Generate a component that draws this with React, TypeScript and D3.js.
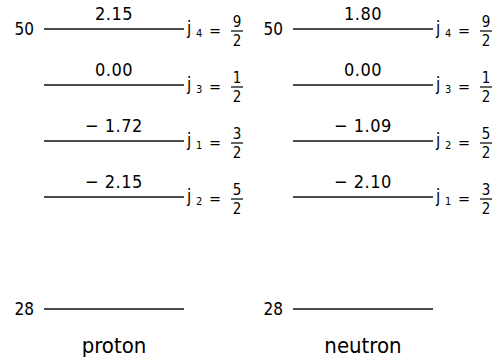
import * as d3 from 'd3';
import { useEffect, useRef } from 'react';

const width = 499;
const height = 362;

const panels = ['proton', 'neutron'];
const shellLabels = ['50', '28'];
const protonEnergies = [2.15, 0.0, -1.72, -2.15];
const protonOrbits = ['4', '3', '1', '2'];
const protonSpinNum = ['9', '1', '3', '5'];
const neutronEnergies = [1.8, 0.0, -1.09, -2.1];
const neutronOrbits = ['4', '3', '2', '1'];
const neutronSpinNum = ['9', '1', '5', '3'];
const spinDen = '2';

const slots = ['0', '1', '2', '3', 'gap', '28'];
const font = '"DejaVu Sans Condensed", "DejaVu Sans", sans-serif';

export default function App() {
  const ref = useRef<SVGSVGElement>(null);

  useEffect(() => {
    const svg = d3.select(ref.current);
    svg.selectAll('*').remove();

    const y = d3.scalePoint<string>().domain(slots).range([29, 309]);
    const x0 = d3.scalePoint<string>().domain(panels).range([44, 293]);
    const lineW = 140;
    const fmt = (v: number) => (v < 0 ? `\u2212 ${d3.format('.2f')(-v)}` : d3.format('.2f')(v));

    const series = [
      { name: 'proton', e: protonEnergies, j: protonOrbits, n: protonSpinNum },
      { name: 'neutron', e: neutronEnergies, j: neutronOrbits, n: neutronSpinNum },
    ];

    series.forEach((s) => {
      const g = svg.append('g').attr('transform', `translate(${x0(s.name)},0)`);
      const levels = s.e.map((v, i) => ({ v, i, j: s.j[i], n: s.n[i] }));

      g.selectAll('line.level')
        .data(levels)
        .enter()
        .append('line')
        .attr('x1', 0)
        .attr('x2', lineW)
        .attr('y1', (d) => y(String(d.i))!)
        .attr('y2', (d) => y(String(d.i))!)
        .attr('stroke', '#111')
        .attr('stroke-width', 1.4);

      g.selectAll('text.val')
        .data(levels)
        .enter()
        .append('text')
        .attr('x', lineW / 2)
        .attr('y', (d) => y(String(d.i))! - 9)
        .attr('text-anchor', 'middle')
        .style('font-family', font)
        .style('font-size', '18px')
        .style('letter-spacing', '0.5px')
        .text((d) => fmt(d.v));

      const jg = g.selectAll('g.j')
        .data(levels)
        .enter()
        .append('g')
        .attr('transform', (d) => `translate(${lineW + 3},${y(String(d.i))!})`);

      jg.append('text')
        .attr('y', 5)
        .style('font-family', font)
        .style('font-size', '17px')
        .text('j');
      jg.append('text')
        .attr('x', 9)
        .attr('y', 8)
        .style('font-family', font)
        .style('font-size', '11px')
        .text((d) => d.j);
      jg.append('text')
        .attr('x', 22)
        .attr('y', 7)
        .style('font-family', font)
        .style('font-size', '16px')
        .text('=');
      jg.append('text')
        .attr('x', 50)
        .attr('y', -2)
        .attr('text-anchor', 'middle')
        .style('font-family', font)
        .style('font-size', '15px')
        .text((d) => d.n);
      jg.append('line')
        .attr('x1', 44)
        .attr('x2', 56)
        .attr('y1', 2)
        .attr('y2', 2)
        .attr('stroke', '#111')
        .attr('stroke-width', 1.3);
      jg.append('text')
        .attr('x', 50)
        .attr('y', 17)
        .attr('text-anchor', 'middle')
        .style('font-family', font)
        .style('font-size', '15px')
        .text(spinDen);

      // closed shells
      g.append('line')
        .attr('x1', 0)
        .attr('x2', lineW)
        .attr('y1', y('28')!)
        .attr('y2', y('28')!)
        .attr('stroke', '#111')
        .attr('stroke-width', 1.4);

      g.selectAll('text.shell')
        .data(shellLabels)
        .enter()
        .append('text')
        .attr('x', -10)
        .attr('y', (d) => (d === '50' ? y('0')! : y('28')!) + 6)
        .attr('text-anchor', 'end')
        .style('font-family', font)
        .style('font-size', '17px')
        .text((d) => d);

      g.append('text')
        .attr('x', lineW / 2)
        .attr('y', 353)
        .attr('text-anchor', 'middle')
        .style('font-family', font)
        .style('font-size', '22px')
        .text(s.name);
    });
  }, []);

  return (
    <svg
      ref={ref}
      width={width}
      height={height}
      style={{ position: 'absolute', left: 0, top: 0, background: '#fff' }}
    />
  );
}
